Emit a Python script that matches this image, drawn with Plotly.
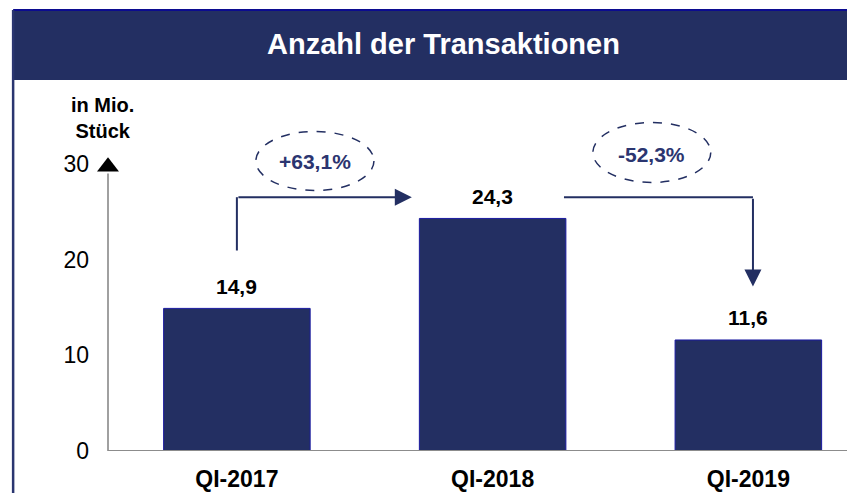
import plotly.graph_objs as go

categories = ['QI-2017', 'QI-2018', 'QI-2019']
values = [14.9, 24.3, 11.6]
y_ticks = [0, 10, 20, 30]

NAVY = '#232F62'
FONT = "Arial, Liberation Sans, sans-serif"


def de(v, nd=1):
    return f'{v:.{nd}f}'.replace('.', ',')


x_idx = list(range(len(categories)))

fig = go.Figure()
fig.add_trace(go.Bar(
    x=x_idx, y=values, width=0.573,
    marker=dict(color=NAVY, line=dict(color='#1a1aa0', width=1)),
    hoverinfo='skip', showlegend=False
))

# arrow tip on top of the y axis
fig.add_trace(go.Scatter(
    x=[-0.504], y=[y_ticks[-1] - 0.3], mode='markers', cliponaxis=False,
    marker=dict(symbol='triangle-up', size=19, color='black'),
    hoverinfo='skip', showlegend=False
))

annotations = []
for i, v in enumerate(values):
    annotations.append(dict(x=i, y=v, text=f'<b>{de(v)}</b>', showarrow=False,
                            yshift=22, font=dict(size=21, color='black', family=FONT)))

shapes = [
    # header bar + frame
    dict(type='rect', xref='paper', yref='paper', x0=-0.127, x1=1.05, y0=1.0277, y1=1.2216,
         fillcolor=NAVY, line=dict(width=0), layer='below'),
    dict(type='line', xref='paper', yref='paper', x0=-0.127, x1=1.05, y0=1.2216, y1=1.2216,
         line=dict(color='#0c0c90', width=2)),
    dict(type='line', xref='paper', yref='paper', x0=-0.127, x1=-0.127, y0=1.2216, y1=-0.14,
         line=dict(color='#2a3570', width=2.5)),
    # axes
    dict(type='line', xref='paper', yref='y', x0=0, x1=0, y0=0, y1=29,
         line=dict(color='#a0a0a0', width=2)),
    dict(type='line', xref='paper', yref='y', x0=0, x1=1, y0=0, y1=0,
         line=dict(color='#8c8c8c', width=2)),
]

# change arrows: (from, to, arrow end x, text pos, ellipse box)
changes = [(0, 1, 0.684, (0.305, 30.25), (0.074, 0.536, 27.22, 33.39)),
           (1, 2, 2.018, (1.623, 30.98), (1.392, 1.853, 28.06, 34.33))]
arrow_y = 26.52
for a, b, xend, (tx, ty), (ex0, ex1, ey0, ey1) in changes:
    pct = (values[b] / values[a] - 1) * 100
    sign = '+' if pct > 0 else ''
    shapes.append(dict(type='circle', xref='x', yref='y', x0=ex0, x1=ex1, y0=ey0, y1=ey1,
                       line=dict(color=NAVY, width=1.5, dash='dash')))
    annotations.append(dict(x=tx, y=ty, text=f'<b>{sign}{de(pct)}%</b>', showarrow=False,
                            xanchor='center', yanchor='middle',
                            font=dict(size=21, color='#2b3570', family=FONT)))
    if pct > 0:
        shapes.append(dict(type='line', xref='x', yref='y', x0=a, x1=a, y0=20.95, y1=arrow_y,
                           line=dict(color=NAVY, width=2)))
        annotations.append(dict(x=xend, y=arrow_y, ax=a, ay=arrow_y, axref='x', ayref='y',
                                xref='x', yref='y', text='', showarrow=True, arrowhead=2,
                                arrowsize=1.7, arrowwidth=2, arrowcolor=NAVY))
    else:
        shapes.append(dict(type='line', xref='x', yref='y', x0=1.279, x1=xend, y0=arrow_y, y1=arrow_y,
                           line=dict(color=NAVY, width=2)))
        annotations.append(dict(x=xend, y=17.19, ax=xend, ay=arrow_y, axref='x', ayref='y',
                                xref='x', yref='y', text='', showarrow=True, arrowhead=2,
                                arrowsize=1.7, arrowwidth=2, arrowcolor=NAVY))

annotations.append(dict(xref='paper', yref='paper', x=0.449, y=1.127,
                        xanchor='center', yanchor='middle',
                        text='<b>Anzahl der Transaktionen</b>', showarrow=False,
                        font=dict(size=29, color='white', family=FONT)))
annotations.append(dict(xref='paper', yref='paper', x=-0.0067, y=0.922,
                        xanchor='center', yanchor='middle',
                        text='<b>in Mio.<br>Stück</b>', showarrow=False, align='center',
                        font=dict(size=20, color='black', family=FONT)))

fig.update_layout(
    width=855, height=493,
    margin=dict(l=100, r=8, t=82, b=50),
    plot_bgcolor='white', paper_bgcolor='white',
    font=dict(family=FONT, color='black'),
    xaxis=dict(range=[-0.504, 2.417], tickvals=x_idx,
               ticktext=[f'<b>{c}</b>' for c in categories],
               tickfont=dict(size=23), showgrid=False, zeroline=False, showline=False,
               ticks='', ticklabelstandoff=12),
    yaxis=dict(range=[0, 37.72], tickvals=y_ticks, tickfont=dict(size=23),
               showgrid=False, zeroline=False, showline=False, ticks='',
               ticklabelstandoff=18),
    shapes=shapes, annotations=annotations,
)

fig.write_html("out.html")
